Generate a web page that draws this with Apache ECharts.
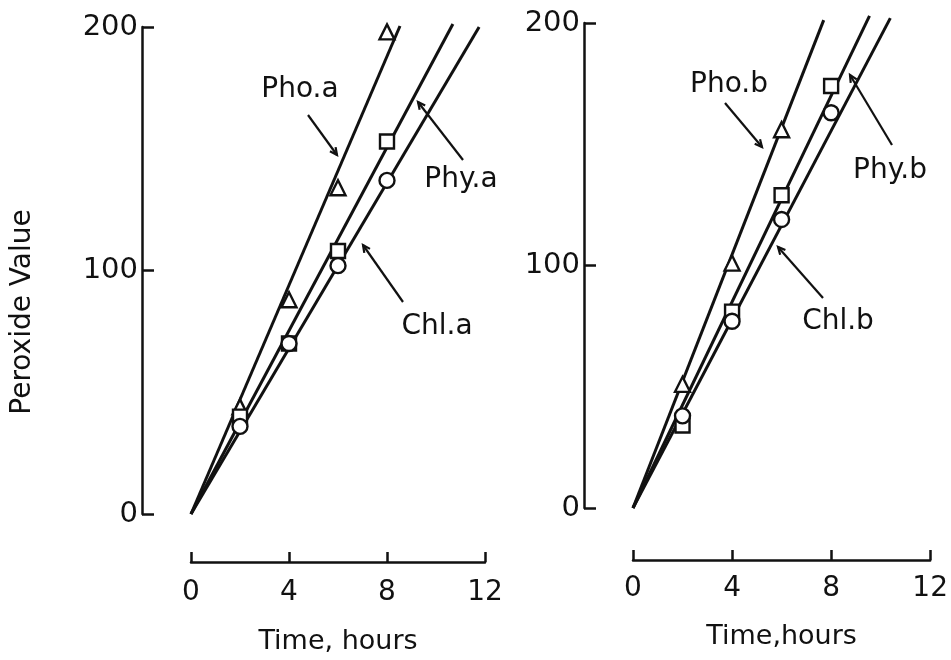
<!DOCTYPE html>
<html>
<head>
<meta charset="utf-8">
<script src="https://cdn.jsdelivr.net/npm/echarts@6/dist/echarts.min.js"></script>
<style>
	html, body { margin: 0; background: #fff; }
	#main { width: 951px; height: 660px; }
</style>
</head>
<body>
<div id="main"></div>
<script>
	// hours at which samples were taken
	var hours = [2, 4, 6, 8];
	// panel a
	var phoA = [44, 88, 134, 198];
	var phyA = [40, 70, 108, 153];
	var chlA = [36, 70, 102, 137];
	// panel b (no Pho.b point at 8 h)
	var hoursPhoB = [2, 4, 6];
	var phoB = [51, 101, 156];
	var phyB = [34, 81, 129, 174];
	var chlB = [38, 77, 119, 163];
	// drawn lines: start and end [hours, value]
	var phoAFit = [[0, 0], [8.53, 200.4]];
	var phyAFit = [[0, 0], [10.69, 201.2]];
	var chlAFit = [[0, 0], [11.76, 200]];
	var phoBFit = [[0, 0], [7.70, 201.2]];
	var phyBFit = [[0, 0], [9.55, 202.9]];
	var chlBFit = [[0, 0], [10.39, 202]];
	var xTicks = [0, 4, 8, 12];
	var yTicks = [0, 100, 200];

	var FONT = "DejaVu Sans";
	var INK = "#111";

	function pairs(xs, ys) {
		return ys.map(function(v, i) { return [xs[i], v]; });
	}

	function xAx(idx, off, name, gap, lblMargin) {
		return {
			gridIndex: idx, type: "value", min: xTicks[0], max: xTicks[xTicks.length - 1], interval: 4,
			offset: off,
			axisLine: { onZero: false, lineStyle: { color: INK, width: 2.5 } },
			axisTick: { inside: true, length: 10, lineStyle: { color: INK, width: 2.5 } },
			axisLabel: { color: INK, fontFamily: FONT, fontSize: 28, margin: lblMargin },
			splitLine: { show: false },
			name: name, nameLocation: "middle", nameGap: gap,
			nameTextStyle: { color: INK, fontFamily: FONT, fontSize: 27 }
		};
	}

	function yAx(idx) {
		return {
			gridIndex: idx, type: "value", min: yTicks[0], max: yTicks[yTicks.length - 1], interval: 100,
			offset: 49,
			axisLine: { show: true, onZero: false, lineStyle: { color: INK, width: 2.5 } },
			axisTick: { show: true, inside: true, length: 12, lineStyle: { color: INK, width: 2.5 } },
			axisLabel: { color: INK, fontFamily: FONT, fontSize: 29, margin: 4 },
			splitLine: { show: false }
		};
	}

	function fitLine(idx, d) {
		return {
			type: "line", xAxisIndex: idx, yAxisIndex: idx, data: d,
			showSymbol: false, clip: false, z: 2,
			lineStyle: { color: INK, width: 3 }
		};
	}

	function marks(idx, d, sym, size) {
		return {
			type: "scatter", xAxisIndex: idx, yAxisIndex: idx, data: d,
			symbol: sym, symbolSize: size, z: 5,
			itemStyle: { color: "#fff", borderColor: INK, borderWidth: 2.4, opacity: 1 }
		};
	}

	function arrow(x1, y1, x2, y2) {
		var a = Math.atan2(y2 - y1, x2 - x1), h = 8, s = 0.45;
		return {
			type: "group",
			children: [
				{ type: "line", shape: { x1: x1, y1: y1, x2: x2, y2: y2 }, style: { stroke: INK, lineWidth: 2.2 } },
				{ type: "polyline", shape: { points: [
					[x2 - h * Math.cos(a - s), y2 - h * Math.sin(a - s)],
					[x2, y2],
					[x2 - h * Math.cos(a + s), y2 - h * Math.sin(a + s)]
				] }, style: { stroke: INK, lineWidth: 2.2, fill: null } }
			]
		};
	}

	function label(txt, x, y) {
		return { type: "text", x: x, y: y, style: { text: txt, fill: INK, font: "28px " + FONT, textAlign: "center", textVerticalAlign: "middle" } };
	}

	var myChart = echarts.init(document.getElementById("main"));
	var option = {
		animation: false,
		backgroundColor: "#fff",
		grid: [
			{ left: 191, top: 27, width: 294, height: 488 },
			{ left: 633, top: 23, width: 299, height: 485 }
		],
		xAxis: [xAx(0, 48, "Time, hours", 66, 17), xAx(1, 52, "Time,hours", 63, 15)],
		yAxis: [yAx(0), yAx(1)],
		series: [
			fitLine(0, phoAFit), fitLine(0, phyAFit), fitLine(0, chlAFit),
			marks(0, pairs(hours, phoA), "triangle", 15),
			marks(0, pairs(hours, phyA), "rect", 14),
			marks(0, pairs(hours, chlA), "circle", 15),
			fitLine(1, phoBFit), fitLine(1, phyBFit), fitLine(1, chlBFit),
			marks(1, pairs(hoursPhoB, phoB), "triangle", 15),
			marks(1, pairs(hours, phyB), "rect", 14),
			marks(1, pairs(hours, chlB), "circle", 15)
		],
		graphic: [
			{ type: "text", x: 23, y: 312, rotation: Math.PI / 2,
				style: { text: "Peroxide Value", fill: INK, font: "28px " + FONT, textAlign: "center", textVerticalAlign: "middle" } },
			label("Pho.a", 300, 90), arrow(308, 115, 337, 155),
			label("Phy.a", 461, 180), arrow(463, 160, 418, 102),
			label("Chl.a", 437, 327), arrow(403, 302, 363, 245),
			label("Pho.b", 729, 85), arrow(725, 103, 762, 147),
			label("Phy.b", 890, 171), arrow(892, 145, 850, 75),
			label("Chl.b", 838, 322), arrow(823, 298, 778, 247)
		]
	};
	myChart.setOption(option);
</script>
</body>
</html>
